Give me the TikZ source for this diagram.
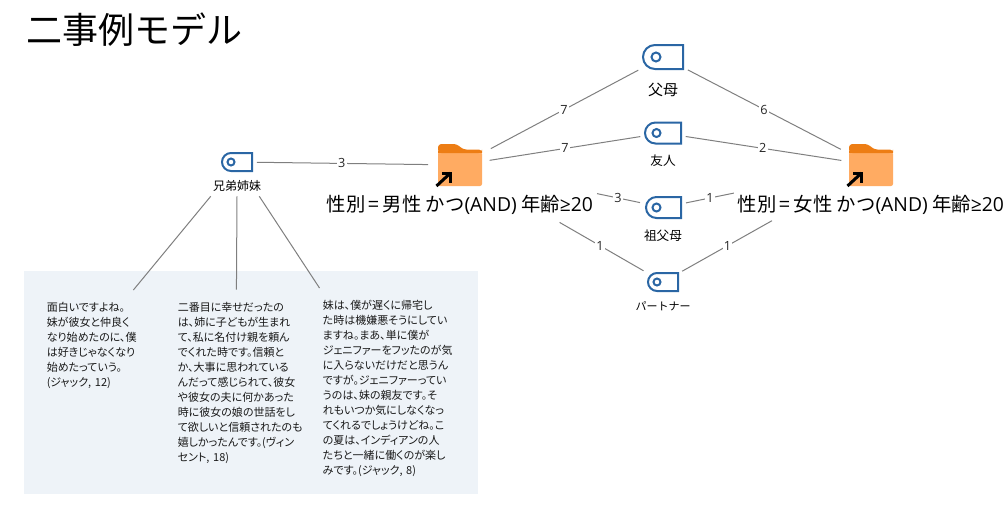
\documentclass[tikz,border=0pt]{standalone}
\usepackage{fontspec}
\setmainfont{Noto Sans CJK JP}
\newfontfamily\quotefont[RawFeature=+palt]{Noto Sans CJK JP}
\newfontfamily\latinfont{Open Sans}
\usetikzlibrary{calc}
\definecolor{tagblue}{HTML}{2A66A4}
\definecolor{foldlight}{HTML}{FFAB62}
\definecolor{folddark}{HTML}{ED7D14}
\definecolor{panelbg}{HTML}{EEF3F8}
\definecolor{linkgray}{HTML}{7F7F7F}
\newcommand{\tagicon}[7]{% name x y halfw halfh circle-offset radius
  \node[iconbox] (#1) at (#2,#3) {};
  \begin{scope}[shift={(#1.center)}]
    \draw[tagstroke] (#4,-#5) [rounded corners=#5*0.75pt] -- (-#4,-#5) -- (-#4,#5) [sharp corners] -- (#4,#5) -- cycle;
    \draw[tagstroke] (#6,0) circle[radius=#7];
  \end{scope}}
\newcommand{\foldericon}[3]{% name x y
  \node[iconbox] (#1) at (#2,#3) {};
  \begin{scope}[shift={(#1.center)}]
    \fill[foldlight,rounded corners=1.5pt] (-22,-13) rectangle (22,21);
    \fill[folddark,rounded corners=2.5pt] (-22,-12) -- (-22,-21) -- (-3,-21) -- (3,-15.5) -- (22,-15.5) -- (22,-12) -- cycle;
    \fill[folddark] (-22,-14) rectangle (22,-12.5);
    \draw[black,line width=2.25pt] (-23.5,21) -- (-9.5,8);
    \draw[black,line width=2.25pt] (-18,8) -- (-9.5,8) -- (-9.5,18);
  \end{scope}}
\newcommand{\condtext}[1]{性別\,=\,#1性 かつ{\latinfont(AND)} 年齢{\latinfont ≥20}}
\tikzset{
  x=0.75pt,y=-0.75pt,
  iconbox/.style={inner sep=0pt,minimum size=15pt},
  tagstroke/.style={draw=tagblue,line width=1.5pt},
  link/.style={draw=linkgray,line width=0.75pt},
  sa/.style={shorten <=#1*0.75pt},
  sb/.style={shorten >=#1*0.75pt},
  weight/.style={fill=white,inner xsep=1pt,inner ysep=0pt,font=\latinfont\fontsize{9.5}{9.5}\selectfont,text=black!85},
  taglabel/.style={inner sep=0pt,text=black},
  condition/.style={inner sep=0pt,font=\fontsize{14.5}{14.5}\selectfont},
  quotebox/.style={inner xsep=2.25pt,inner ysep=9pt,align=left,anchor=north west,font=\quotefont\fontsize{8.25}{11.25}\selectfont,text=black!90},
}
\begin{document}
\begin{tikzpicture}
\useasboundingbox (0,0) rectangle (1008,508);
\fill[panelbg] (24,271) rectangle (478,494);
\node[inner sep=0pt,anchor=west,font=\fontsize{27}{27}\selectfont] (title) at (26,30) {二事例モデル};

\tagicon{sib}{237}{162}{15}{9}{-6}{3.5}
\tagicon{par}{663}{57}{20}{12}{-7}{4.5}
\tagicon{fri}{663}{133}{18}{10.5}{-6.5}{4}
\tagicon{gra}{663.5}{207.5}{17.5}{10.5}{-7}{4}
\tagicon{ptn}{663}{282}{15}{9}{-6}{3.5}
\foldericon{foA}{460}{165}
\foldericon{foB}{871}{165}

\node[taglabel,minimum width=39pt,minimum height=15pt,font=\fontsize{9}{9}\selectfont] (sibL) at (237,186) {兄弟姉妹};
\node[taglabel,font=\fontsize{11.25}{11.25}\selectfont] (parL) at (663,90) {父母};
\node[taglabel,font=\fontsize{9.5}{9.5}\selectfont] (friL) at (663,161) {友人};
\node[taglabel,font=\fontsize{9.5}{9.5}\selectfont] (graL) at (663,236) {祖父母};
\node[taglabel,font=\fontsize{8.25}{8.25}\selectfont] (ptnL) at (663,306) {パートナー};
\node[condition] (foAL) at (460,205) {\condtext{男}};
\node[condition] (foBL) at (871,205) {\condtext{女}};

\node[quotebox,text width=62.5pt] (q1) at (43.5,290) {面白いですよね。\\妹が彼女と仲良く\\なり始めたのに、僕\\は好きじゃなくなり\\始めたっていう。\\(ジャック, 12)};
\node[quotebox,text width=88pt] (q2) at (174.5,289.5) {二番目に幸せだったの\\は、姉に子どもが生まれ\\て、私に名付け親を頼ん\\でくれた時です。信頼と\\か、大事に思われている\\んだって感じられて、彼女\\や彼女の夫に何かあった\\時に彼女の娘の世話をし\\て欲しいと信頼されたのも\\嬉しかったんです。(ヴィン\\セント, 18)};
\node[quotebox,text width=96pt] (q3) at (319.5,288) {妹は、僕が遅くに帰宅し\\た時は機嫌悪そうにしてい\\ますね。まあ、単に僕が\\ジェニファーをフッたのが気\\に入らないだけだと思うん\\ですが。ジェニファーってい\\うのは、妹の親友です。そ\\れもいつか気にしなくなっ\\てくれるでしょうけどね。こ\\の夏は、インディアンの人\\たちと一緒に働くのが楽し\\みです。(ジャック, 8)};

\draw[link,sa=20,sb=32] (sib.center) -- node[weight,pos=0.47] {3} (foA.center);
\draw[link,sa=35,sb=28] (foA.center) -- node[weight,pos=0.512] {7} (par.center);
\draw[link,sa=30,sb=23] (foA.center) -- node[weight,pos=0.517] {7} (fri.center);
\draw[link,sa=140,sb=24] (foA.center) -- node[weight,pos=0.776] {3} (gra.center);
\draw[link,sa=115,sb=22.5] (foA.center) -- node[weight,pos=0.69] {1} (ptn.center);
\draw[link,sa=28,sb=34] (par.center) -- node[weight,pos=0.486] {6} (foB.center);
\draw[link,sa=23,sb=30] (fri.center) -- node[weight,pos=0.48] {2} (foB.center);
\draw[link,sa=23,sb=140] (gra.center) -- node[weight,pos=0.224] {1} (foB.center);
\draw[link,sa=22,sb=113.6] (ptn.center) -- node[weight,pos=0.31] {1} (foB.center);
\draw[link] (sibL.south west) -- (q1.north east);
\draw[link] (sibL.south) -- (q2.north);
\draw[link] ($(sibL.south east)+(-4,0)$) -- (q3.north west);
\end{tikzpicture}
\end{document}
